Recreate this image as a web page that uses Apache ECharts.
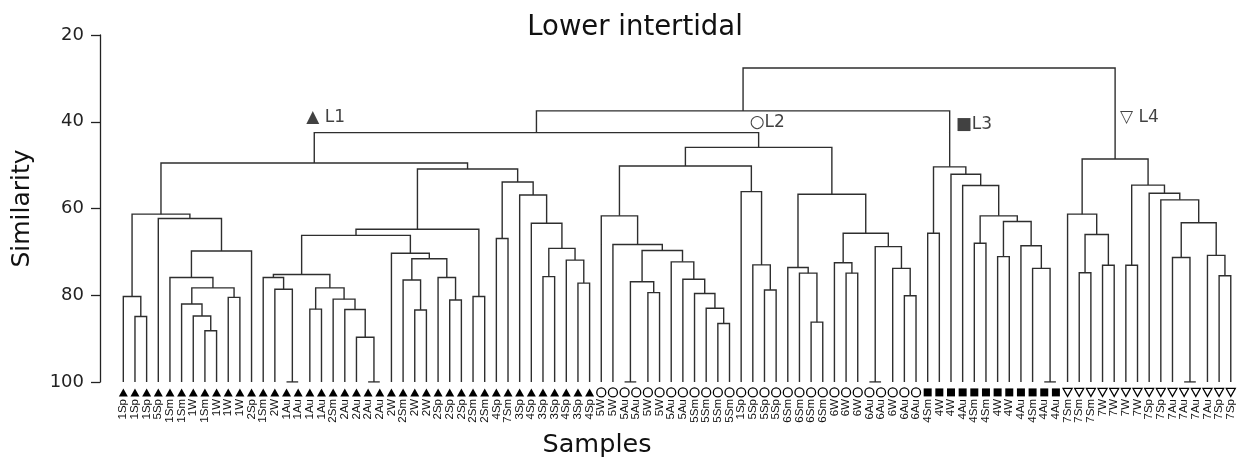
<!DOCTYPE html>
<html>
<head>
<meta charset="utf-8">
<script src="https://cdn.jsdelivr.net/npm/echarts@6/dist/echarts.min.js"></script>
<style>
html,body{margin:0;padding:0;background:#fff;}
#chart{width:1238px;height:459px;}
</style>
</head>
<body>
<div id="chart"></div>
<script>
// Samples in dendrogram leaf order
var sampleLabels = [
  '1Sp','1Sp','1Sp','5Sp','1Sm','1Sm','1W','1Sm','1W','1W','1W','2Sp','1Sm','2W',
  '1Au','1Au','1Au','1Au','2Sm','2Au','2Au','2Au','2Au','2W','2Sm','2W','2W','2Sp','2Sp','2Sp','2Sm','2Sm',
  '4Sp','7Sm','3Sp','4Sp','3Sp','3Sp','4Sp','3Sp','4Sp',
  '5W','5W','5Au','5Au','5W','5W','5Au','5Au','5Sm','5Sm','5Sm','5Sm','1Sp','5Sp','5Sp','5Sp',
  '6Sm','6Sm','6Sm','6Sm','6W','6W','6W','6Au','6Au','6W','6Au','6Au',
  '4Sm','4W','4W','4Au','4Sm','4Sm','4W','4W','4Au','4Sm','4Au','4Au',
  '7Sm','7Sm','7Sm','7W','7W','7W','7W','7Sp','7Sp','7Au','7Au','7Au','7Au','7Sp','7Sp'
];

// Level groups and how many consecutive leaves each one holds
var groupNames = ['L1', 'L2', 'L3', 'L4'];
var groupSizes = [41, 28, 12, 15];

// Clusters: [left, right, similarity]; a plain number is a leaf index
var clusterL1 = [
  [[0, [1, 2, 84.9], 80.3],
   [3, [[4, [[5, [6, [7, 8, 88.2], 84.8], 82], [9, 10, 80.5], 78.3], 75.9], 11, 69.8], 62.3],
   61.3],
  [[[[[12, [13, [14, 15, 100], 78.6], 75.9],
      [[16, 17, 83.2], [18, [19, [20, [21, 22, 100], 89.7], 83.3], 80.9], 78.3],
      75.2],
     [23, [[24, [25, 26, 83.4], 76.5], [27, [28, 29, 81.1], 75.9], 71.6], 70.3],
     66.2],
    [30, 31, 80.3],
    64.8],
   [[32, 33, 66.9], [34, [35, [[36, 37, 75.7], [38, [39, 40, 77.2], 71.9], 69.2], 63.4], 56.9], 53.9],
   50.9],
  49.5
];
var clusterL2 = [
  [[41, [42, [[[43, 44, 100], [45, 46, 79.4], 76.9],
              [47, [48, [49, [50, [51, 52, 86.5], 83], 79.6], 76.3], 72.3],
              69.7], 68.3], 61.7],
   [53, [54, [55, 56, 78.8], 73], 56.1],
   50.2],
  [[57, [58, [59, 60, 86.2], 74.9], 73.6],
   [[61, [62, 63, 74.9], 72.5], [[64, 65, 100], [66, [67, 68, 80.1], 73.8], 68.8], 65.7],
   56.7],
  45.9
];
var clusterL3 = [
  [69, 70, 65.7],
  [71, [72, [[73, 74, 68], [[75, 76, 71.1], [77, [78, [79, 80, 100], 73.8], 68.6], 63], 61.7], 54.7], 52.1],
  50.4
];
var clusterL4 = [
  [81, [[82, 83, 74.8], [84, 85, 73.1], 66], 61.3],
  [[86, 87, 73.1], [88, [89, [[90, [91, 92, 100], 71.3], [93, [94, 95, 75.5], 70.8], 63.3], 58], 56.5], 54.6],
  48.6
];
// Similarity at which the level groups fuse: L1+L2, then +L3, then +L4
var joinLevels = [42.5, 37.5, 27.6];

var tree = [[[clusterL1, clusterL2, joinLevels[0]], clusterL3, joinLevels[1]], clusterL4, joinLevels[2]];

// Every merge becomes a bracket polyline in (leaf index, similarity) space
var segments = [];
var centers = new Map();
function walk(node) {
  if (typeof node === 'number') return { x: node, y: 100 };
  var a = walk(node[0]);
  var b = walk(node[1]);
  var h = node[2];
  segments.push({ coords: [[a.x, a.y], [a.x, h], [b.x, h], [b.x, b.y]] });
  var c = { x: (a.x + b.x) / 2, y: h };
  centers.set(node, c.x);
  return c;
}
walk(tree);

// Leaf markers per group
var groupSymbols = [
  { symbol: 'triangle', size: [9, 8], fill: '#000', stroke: '#000', border: 0 },
  { symbol: 'circle', size: 9, fill: '#fff', stroke: '#000', border: 1.3 },
  { symbol: 'rect', size: 8, fill: '#000', stroke: '#000', border: 0 },
  { symbol: 'path://M0,0 L10,0 L5,9 Z', size: [9, 8], fill: '#fff', stroke: '#000', border: 1.3 }
];
var markerLevel = 102.4;
var allSeries = [];
allSeries.push({
  type: 'lines',
  coordinateSystem: 'cartesian2d',
  xAxisIndex: 0,
  yAxisIndex: 0,
  polyline: true,
  silent: true,
  lineStyle: { color: '#2e2e2e', width: 1.4, opacity: 1 },
  data: segments,
  z: 2
});
var start = 0;
groupSizes.forEach(function (n, g) {
  var pts = [];
  for (var i = start; i < start + n; i++) pts.push([i, markerLevel]);
  start += n;
  var s = groupSymbols[g];
  allSeries.push({
    type: 'scatter',
    name: groupNames[g],
    clip: false,
    silent: true,
    symbol: s.symbol,
    symbolSize: s.size,
    itemStyle: { color: s.fill, borderColor: s.stroke, borderWidth: s.border, opacity: 1 },
    data: pts,
    z: 3
  });
});

// Group tags beside each group's root
var tagText = ['▲ L1', '○L2', '■L3', '▽ L4'];
var tagLevel = [39.1, 40.1, 40.75, 39.1];
var tagShift = [-8, -9, 6, 5];
var clusters = [clusterL1, clusterL2, clusterL3, clusterL4];
var tagData = clusters.map(function (c, g) {
  return {
    value: [centers.get(c), tagLevel[g]],
    label: { formatter: tagText[g], position: [tagShift[g], 0] }
  };
});
allSeries.push({
  type: 'scatter',
  clip: false,
  silent: true,
  symbolSize: 0,
  label: {
    show: true,
    align: 'left',
    verticalAlign: 'middle',
    fontFamily: 'DejaVu Sans',
    fontSize: 17,
    color: '#111'
  },
  data: tagData,
  z: 4
});

var chart = echarts.init(document.getElementById('chart'), null, { renderer: 'canvas' });
chart.setOption({
  animation: false,
  backgroundColor: '#fff',
  title: [
    {
      text: 'Lower intertidal', left: 630, top: 9, textAlign: 'center',
      textStyle: { fontFamily: 'DejaVu Sans', fontSize: 27.5, fontWeight: 'normal', color: '#111' }
    },
    {
      text: 'Samples', left: 592, top: 427, textAlign: 'center',
      textStyle: { fontFamily: 'DejaVu Sans', fontSize: 25.5, fontWeight: 'normal', color: '#111' }
    }
  ],
  grid: { left: 100, right: 1.4, top: 35, bottom: 77, containLabel: false, outerBoundsMode: 'none' },
  xAxis: {
    type: 'value',
    min: -2, max: 95.5, interval: 1,
    axisLine: { show: false, onZero: false },
    axisTick: { show: false },
    splitLine: { show: false },
    axisLabel: {
      rotate: 90, margin: 17,
      fontFamily: 'Liberation Sans', fontSize: 11.5, color: '#111',
      formatter: function (v) { return sampleLabels[v] || ''; }
    }
  },
  yAxis: {
    type: 'value',
    inverse: true,
    min: 20, max: 100, interval: 20,
    name: 'Similarity',
    nameLocation: 'middle',
    nameGap: 65,
    nameTextStyle: { fontFamily: 'DejaVu Sans', fontSize: 25, color: '#111' },
    axisLine: { show: true, onZero: false, lineStyle: { color: '#222', width: 1.3 } },
    axisTick: { show: true, length: 9, lineStyle: { color: '#222', width: 1.3 } },
    axisLabel: { fontFamily: 'DejaVu Sans', fontSize: 18, color: '#222', margin: 16 },
    splitLine: { show: false }
  },
  series: allSeries
});
</script>
</body>
</html>
